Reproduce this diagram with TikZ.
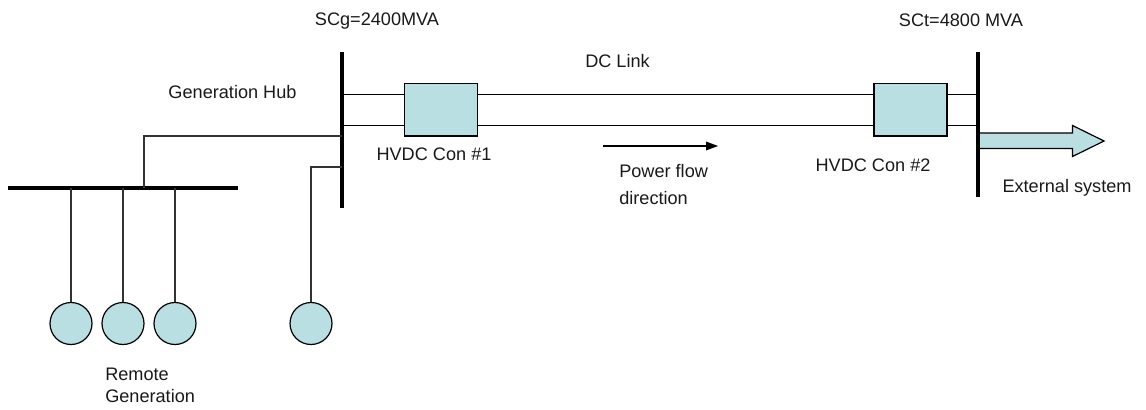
\documentclass[tikz,border=0pt]{standalone}
\usepackage{fontspec}
\setmainfont{Liberation Sans}
\definecolor{tealfill}{HTML}{B9DFE2}
\definecolor{wire}{HTML}{333333}
\begin{document}
\begin{tikzpicture}[x=0.75pt,y=-0.75pt,
  lbl/.style={inner sep=0pt,font=\fontsize{13.6pt}{16.5pt}\selectfont,text=black!90,align=left},
  busbar/.style={fill=black,draw=none,inner sep=0pt,minimum width=3pt,minimum height=3pt},
  conv/.style={draw=black,fill=tealfill,line width=0.9pt,inner sep=0pt,minimum width=54.75pt,minimum height=39.4pt},
  gen/.style={draw=black,fill=tealfill,circle,line width=0.9pt,inner sep=0pt,minimum size=31.5pt},
  wireline/.style={draw=wire,line width=0.95pt},
  dcline/.style={draw=black,line width=1pt}]
\useasboundingbox (0,0) rectangle (1146,410);
% bus bars
\node[busbar,minimum height=117pt] (hub) at (342,130) {};
\node[busbar,minimum height=108.75pt] (term) at (978,124.5) {};
\node[busbar,minimum width=172.5pt] (rem) at (123,188) {};
% converters
\coordinate (dctop) at (0,94.2);
\coordinate (dcbot) at (0,125.7);
\draw[dcline] (hub.center |- dctop) -- (term.center |- dctop);
\draw[dcline] (hub.center |- dcbot) -- (term.center |- dcbot);
\node[conv] (c1) at (441,109.75) {};
\node[conv] (c2) at (910.5,109.75) {};
% generators
\node[gen] (g1) at (71,323.5) {};
\node[gen] (g2) at (123,323.5) {};
\node[gen] (g3) at (175,323.5) {};
\node[gen] (g4) at (311,323.5) {};
\draw[wireline] (rem.center -| g1) -- (g1);
\draw[wireline] (rem.center -| g2) -- (g2);
\draw[wireline] (rem.center -| g3) -- (g3);
\coordinate (tap) at (144,188);
\coordinate (hubr) at (342,136);
\coordinate (hubg) at (342,167);
\draw[wireline] (tap) |- (hubr);
\draw[wireline] (g4) |- (hubg);
% external arrow
\draw[draw=black,fill=tealfill,line width=0.9pt,line join=miter]
  (980,133) -- (1072.5,133) -- (1072.5,125.5) -- (1104,141) -- (1072.5,156.5) -- (1072.5,148.5) -- (980,148.5);
% power flow arrow
\coordinate (pfa) at (603,146);
\coordinate (pfb) at (718,146);
\draw[draw=black,line width=0.9pt] (pfa) -- (709,146);
\fill[black] (pfb) -- (706,141.5) -- (706,150.5) -- cycle;
% labels
\node[lbl,anchor=center] (t1) at (377,21.5) {SCg=2400MVA};
\node[lbl,anchor=center] (t2) at (961,20.5) {SCt=4800 MVA};
\node[lbl,anchor=center] (t3) at (232.5,92.5) {Generation Hub};
\node[lbl,anchor=center] (t4) at (617.5,61) {DC Link};
\node[lbl,anchor=center] (t5) at (434,154) {HVDC Con \#1};
\node[lbl,anchor=center] (t6) at (873,165) {HVDC Con \#2};
\node[lbl,anchor=center] (t7) at (1067,187.5) {External system};
\node[lbl,anchor=north west] (t8) at (619,164) {Power flow\\[3.6pt]direction};
\node[lbl,anchor=north west] (t9) at (105,367.5) {Remote\\Generation};
\end{tikzpicture}
\end{document}
